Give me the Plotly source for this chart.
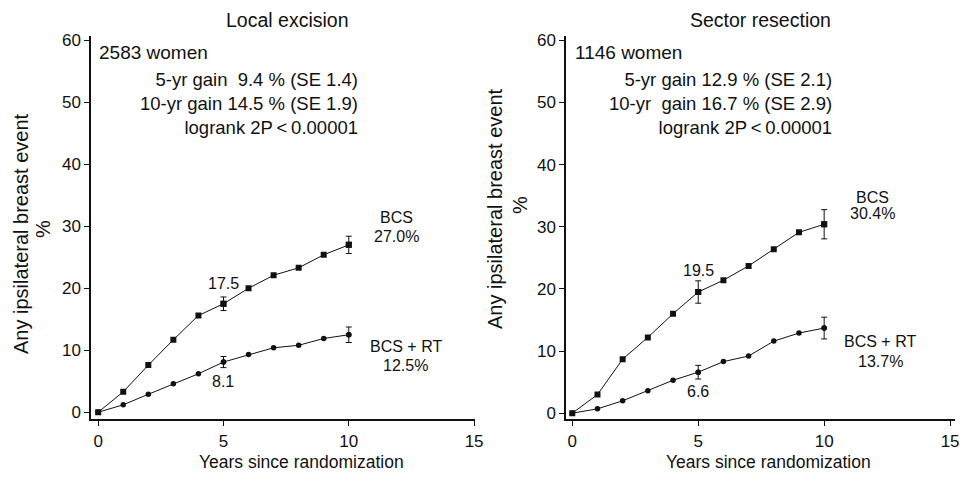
import plotly.graph_objects as go

# Years since randomization
years = [0, 1, 2, 3, 4, 5, 6, 7, 8, 9, 10]

# Cumulative risk (%) of any ipsilateral breast event
local_bcs = [0, 3.3, 7.6, 11.7, 15.6, 17.5, 20.0, 22.1, 23.3, 25.4, 27.0]
local_bcs_rt = [0, 1.2, 2.9, 4.6, 6.2, 8.1, 9.3, 10.4, 10.8, 11.9, 12.5]
sector_bcs = [0, 3.0, 8.7, 12.2, 16.0, 19.5, 21.4, 23.7, 26.4, 29.1, 30.4]
sector_bcs_rt = [0, 0.7, 2.0, 3.6, 5.3, 6.6, 8.3, 9.2, 11.6, 12.9, 13.7]

# Standard errors shown at 5 and 10 years
se_years = [5, 10]
local_bcs_se = [1.1, 1.4]
local_bcs_rt_se = [0.9, 1.25]
sector_bcs_se = [1.8, 2.35]
sector_bcs_rt_se = [1.1, 1.75]

panel_titles = ["Local excision", "Sector resection"]
n_women = ["2583 women", "1146 women"]
stats_lines = [
    ["5-yr gain\u00a0\u00a09.4 % (SE 1.4)", "10-yr gain 14.5 % (SE 1.9)", "logrank 2P\u2009<\u20090.00001"],
    ["5-yr gain 12.9 % (SE 2.1)", "10-yr\u00a0\u00a0gain 16.7 % (SE 2.9)", "logrank 2P\u2009<\u20090.00001"],
]
y_title = "Any ipsilateral breast event"
y_unit = "%"
x_title = "Years since randomization"
y_ticks = [0, 10, 20, 30, 40, 50, 60]
x_ticks = [0, 5, 10, 15]

FONT = "Liberation Sans, Arial, Helvetica, sans-serif"
INK = "#111111"
W, H = 980, 481

fig = go.Figure()


def add_panel(xa, ya, bcs, rt, bcs_se, rt_se):
    for vals, se, sym, size in [(bcs, bcs_se, "square", 6), (rt, rt_se, "circle", 5.5)]:
        fig.add_trace(go.Scatter(
            x=se_years, y=[vals[years.index(t)] for t in se_years],
            mode="markers", marker=dict(symbol=sym, size=size, color=INK),
            error_y=dict(type="data", array=se, symmetric=True, color=INK, thickness=1, width=3),
            xaxis=xa, yaxis=ya, showlegend=False, hoverinfo="skip"))
        fig.add_trace(go.Scatter(
            x=years, y=vals, mode="lines+markers",
            line=dict(color=INK, width=1),
            marker=dict(symbol=sym, size=size, color=INK),
            xaxis=xa, yaxis=ya, showlegend=False))


add_panel("x", "y", local_bcs, local_bcs_rt, local_bcs_se, local_bcs_rt_se)
add_panel("x2", "y2", sector_bcs, sector_bcs_rt, sector_bcs_se, sector_bcs_rt_se)

axis_common = dict(
    showgrid=False, zeroline=False, showline=True, linecolor=INK, linewidth=2,
    ticks="outside", ticklen=5, tickwidth=1, tickcolor=INK,
    tickfont=dict(family=FONT, size=17, color=INK),
)

y_dom = [(481 - 422) / H, (481 - 32) / H]

fig.update_layout(
    width=W, height=H,
    margin=dict(l=0, r=0, t=0, b=0),
    paper_bgcolor="white", plot_bgcolor="white",
    font=dict(family=FONT, color=INK),
    xaxis=dict(domain=[92 / W, 479 / W], range=[-0.277, 15.04], tickvals=x_ticks, anchor="y", **axis_common),
    yaxis=dict(domain=y_dom, range=[-1.108, 60.63], tickvals=y_ticks, anchor="x", **axis_common),
    xaxis2=dict(domain=[571 / W, 963 / W], range=[-0.236, 15.2], tickvals=x_ticks, anchor="y2", **axis_common),
    yaxis2=dict(domain=y_dom, range=[-0.95, 60.63], tickvals=y_ticks, anchor="x2", **axis_common),
)

ann = []


def txt(text, x, y, size, xanchor="center", yanchor="middle", xref="paper", yref="paper",
        xshift=0, yshift=0, angle=0, align="center"):
    ann.append(dict(text=text, x=x, y=y, xref=xref, yref=yref, xanchor=xanchor, yanchor=yanchor,
                    xshift=xshift, yshift=yshift, textangle=angle, showarrow=False, align=align,
                    font=dict(family=FONT, size=size, color=INK)))


def py(p):
    return 1 - p / H


# Panel headings, counts, summary statistics and axis titles
panels = [
    dict(cx=289, wx=98, sx=363, ty=(20.5, 233), uy=(43.5, 228), xt=304),
    dict(cx=767, wx=578, sx=841, ty=(499, 207), uy=(524, 204), xt=775),
]
for i, p in enumerate(panels):
    txt(panel_titles[i], p["cx"] / W, py(15), 19.5)
    txt(n_women[i], p["wx"] / W, py(48.5), 19, xanchor="left")
    txt("<br>".join(stats_lines[i]), p["sx"] / W, py(100), 18.5, xanchor="right", align="right")
    txt(y_title, p["ty"][0] / W, py(p["ty"][1]), 20, angle=-90)
    txt(y_unit, p["uy"][0] / W, py(p["uy"][1]), 20, angle=-90)
    txt(x_title, p["xt"] / W, py(466), 17.5)

# Value labels at 5 and 10 years, tied to the data
for xa, ya, bcs, rt, lab_bcs, lab_rt, sh in [
    ("x", "y", local_bcs, local_bcs_rt, "27.0%", "12.5%", (20, -19, 27, 8.5, -12, -31, 48, 57)),
    ("x2", "y2", sector_bcs, sector_bcs_rt, "30.4%", "13.7%", (21.5, -19, 26.5, 10.5, -13, -33, 48, 56)),
]:
    txt(f"{bcs[5]:.1f}", 5, bcs[5], 16, xref=xa, yref=ya, yshift=sh[0])
    txt(f"{rt[5]:.1f}", 5, rt[5], 16, xref=xa, yref=ya, yshift=sh[1])
    txt("BCS", 10, bcs[10], 16, xref=xa, yref=ya, xshift=sh[6], yshift=sh[2])
    txt(lab_bcs, 10, bcs[10], 16, xref=xa, yref=ya, xshift=sh[6], yshift=sh[3])
    txt("BCS + RT", 10, rt[10], 16, xref=xa, yref=ya, xshift=sh[7], yshift=sh[4])
    txt(lab_rt, 10, rt[10], 16, xref=xa, yref=ya, xshift=sh[7], yshift=sh[5])

fig.update_layout(annotations=ann)
fig.write_html("out.html")
